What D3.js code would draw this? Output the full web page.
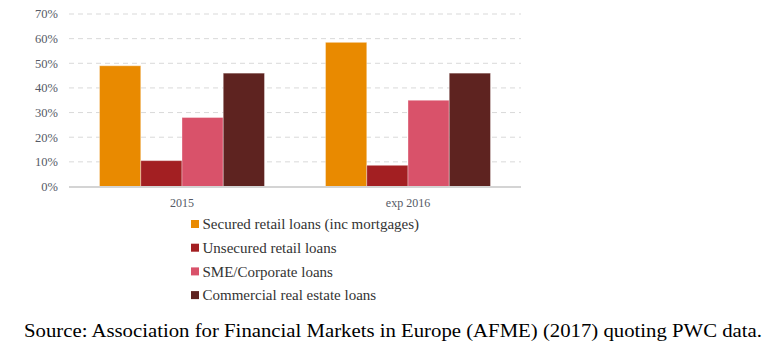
<!DOCTYPE html>
<html><head><meta charset="utf-8">
<script src="https://d3js.org/d3.v7.min.js"></script>
<style>body{margin:0;background:#fff}svg{display:block}</style>
</head><body>
<svg id="c" width="771" height="358"></svg>
<script>
const categories = ["2015", "exp 2016"];
const seriesNames = ["Secured retail loans (inc mortgages)", "Unsecured retail loans", "SME/Corporate loans", "Commercial real estate loans"];
const secured = [49, 58.5];
const unsecured = [10.5, 8.6];
const sme = [28, 35];
const commercial = [46, 46];
const yTicks = [0, 10, 20, 30, 40, 50, 60, 70];
const colors = ["#E98A00", "#A31F22", "#D9526A", "#5E2320"];
const series = [secured, unsecured, sme, commercial];
const serif = "'Liberation Serif', 'DejaVu Serif', 'Times New Roman', serif";

const svg = d3.select("#c");
const x0 = d3.scaleBand().domain(categories).range([69, 521]).paddingInner(0.27).paddingOuter(0.135);
const x1 = d3.scaleBand().domain(d3.range(series.length)).range([0, x0.bandwidth()]);
const y = d3.scaleLinear().domain([0, 70]).range([186.5, 14]);

svg.append("g").selectAll("line").data(yTicks.filter(d => d > 0)).join("line")
  .attr("x1", 69).attr("x2", 521).attr("y1", d => y(d)).attr("y2", d => y(d))
  .attr("stroke", "#d9d9d9").attr("stroke-width", 1).attr("stroke-dasharray", "5,4");

svg.append("g").selectAll("text").data(yTicks).join("text")
  .attr("x", 58).attr("y", d => y(d)).attr("dy", "0.35em").attr("text-anchor", "end")
  .style("font-family", serif).attr("font-size", 12.5).attr("fill", "#555a66")
  .text(d => d + "%");

const g = svg.append("g");
categories.forEach((c, ci) => {
  series.forEach((s, si) => {
    g.append("rect")
      .attr("x", x0(c) + x1(si)).attr("width", x1.bandwidth())
      .attr("y", y(s[ci])).attr("height", y(0) - y(s[ci]))
      .attr("fill", colors[si]).attr("stroke", "rgba(255,255,255,0.35)").attr("stroke-width", 1);
  });
});

svg.append("line").attr("x1", 69).attr("x2", 521).attr("y1", y(0) + 0.5).attr("y2", y(0) + 0.5)
  .attr("stroke", "#d4d4d4").attr("stroke-width", 2);

svg.append("g").selectAll("text").data(categories).join("text")
  .attr("x", d => x0(d) + x0.bandwidth() / 2).attr("y", 203).attr("dy", "0.35em")
  .attr("text-anchor", "middle").style("font-family", serif).attr("font-size", 12)
  .attr("fill", "#555a66").text(d => d);

const lg = svg.append("g");
seriesNames.forEach((n, i) => {
  const yy = 224 + i * 23.7;
  lg.append("rect").attr("x", 191).attr("y", yy - 4).attr("width", 8).attr("height", 8).attr("fill", colors[i]);
  lg.append("text").attr("x", 202.5).attr("y", yy).attr("dy", "0.35em")
    .style("font-family", serif).attr("font-size", 15).attr("fill", "#333").text(n);
});

svg.append("text").attr("x", 24).attr("y", 330).attr("dy", "0.35em")
  .style("font-family", serif).attr("font-size", 19.5).attr("fill", "#000")
  .attr("textLength", 738).attr("lengthAdjust", "spacingAndGlyphs")
  .text("Source: Association for Financial Markets in Europe (AFME) (2017) quoting PWC data.");
</script>
</body></html>
